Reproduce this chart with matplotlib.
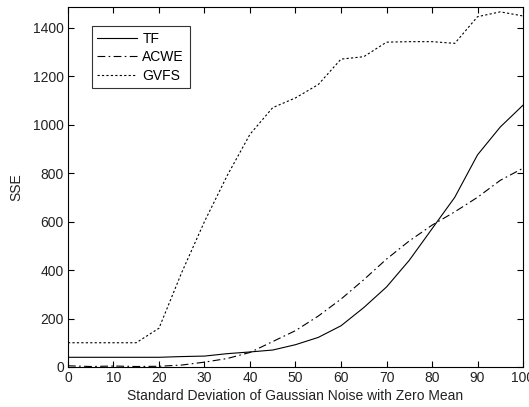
import matplotlib
matplotlib.use('Agg')
import matplotlib.pyplot as plt

# values
noise_std = [0, 5, 10, 15, 20, 25, 30, 35, 40, 45, 50, 55, 60, 65, 70, 75, 80, 85, 90, 95, 100]
sse_tf = [40, 40, 40, 40, 40, 43, 45, 55, 62, 70, 92, 122, 170, 245, 330, 440, 570, 700, 875, 990, 1080]
sse_acwe = [5, 2, 4, 2, 3, 8, 20, 35, 60, 105, 150, 210, 280, 360, 445, 520, 585, 640, 700, 770, 820]
sse_gvfs = [100, 100, 100, 100, 160, 390, 600, 790, 960, 1070, 1110, 1165, 1270, 1280, 1340, 1342,
            1342, 1335, 1445, 1465, 1448]

xticks = [0, 10, 20, 30, 40, 50, 60, 70, 80, 90, 100]
yticks = [0, 200, 400, 600, 800, 1000, 1200, 1400]

plt.rcParams['font.family'] = ['Liberation Sans', 'DejaVu Sans']

fig = plt.figure(figsize=(5.29, 4.07), dpi=100)
ax = fig.add_axes([0.1285, 0.0983, 0.8602, 0.8845])

ax.plot(noise_std, sse_tf, color='black', linewidth=0.8, linestyle='-', label='TF')
ax.plot(noise_std, sse_acwe, color='black', linewidth=0.8, linestyle=(0, (7, 3, 1.5, 3)), label='ACWE')
ax.plot(noise_std, sse_gvfs, color='black', linewidth=0.8, linestyle=(0, (2, 2)), label='GVFS')

ax.set_xlim(0, 100)
ax.set_ylim(0, 1485)
ax.set_xticks(xticks)
ax.set_yticks(yticks)
ax.tick_params(direction='in', top=True, right=True, length=4, width=0.8,
               labelsize=10, colors='black', labelcolor='#222222', pad=3)
for s in ax.spines.values():
    s.set_linewidth(0.8)

ax.set_xlabel('Standard Deviation of Gaussian Noise with Zero Mean', fontsize=10, labelpad=3, color='#222222')
ax.set_ylabel('SSE', fontsize=10, labelpad=7, color='#222222')

# legend box sits a bit below the top of the axes
leg = ax.legend(loc='upper left', bbox_to_anchor=(0.052, 0.947), fontsize=10, frameon=True,
                fancybox=False, edgecolor='black', handlelength=2.9, handletextpad=0.35,
                borderpad=0.4, labelspacing=0.33, borderaxespad=0)
leg.get_frame().set_linewidth(0.8)

fig.savefig('out.png', dpi=100, facecolor='white')
